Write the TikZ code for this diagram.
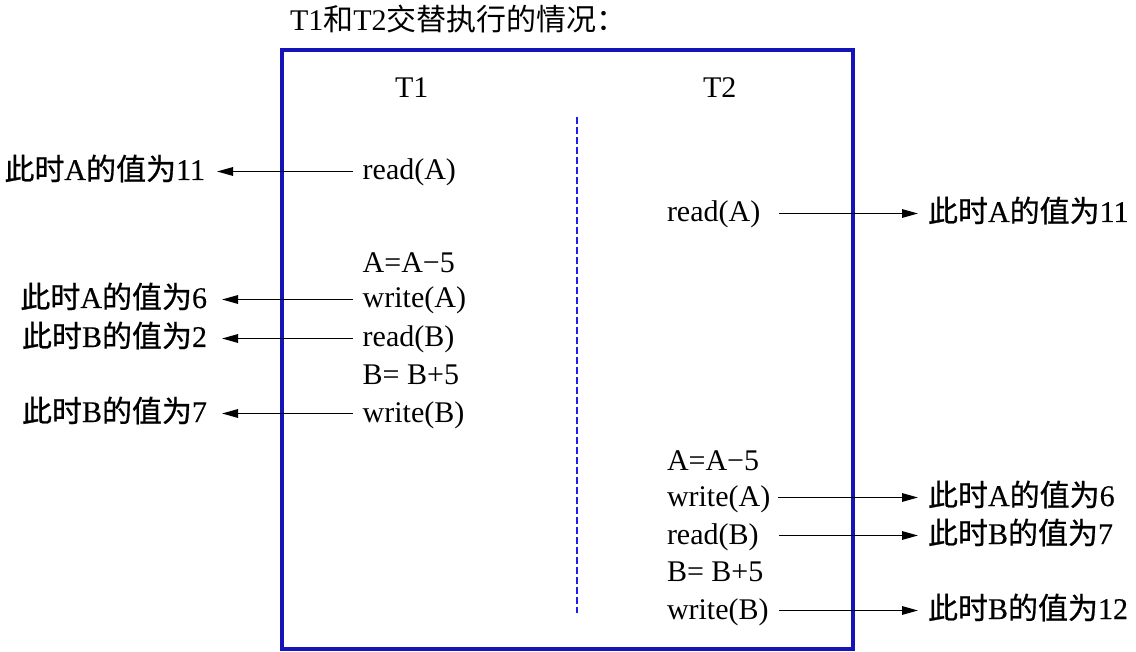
\documentclass[tikz,border=0pt]{standalone}
\usepackage{fontspec}
\setmainfont{Liberation Serif}
\newfontfamily\cjk{Noto Sans CJK SC}
\newfontfamily\cjkm[FakeBold=0.7]{Noto Sans CJK SC}
\newfontfamily\labfont[FakeBold=0.3]{Liberation Serif}
\usetikzlibrary{arrows.meta}
\definecolor{boxblue}{RGB}{20,20,185}
\definecolor{dashblue}{RGB}{30,30,235}
\newcommand{\lab}[2]{{\labfont{\cjkm 此时}#1{\cjkm 的值为}#2}}
\begin{document}
\begin{tikzpicture}[x=1pt,y=-1pt,
  txt/.style={inner sep=0pt,outer sep=0pt,font=\fontsize{30}{32}\selectfont},
  arr/.style={line width=1.5pt,-{Triangle[length=16pt,width=8.5pt]}}]
\useasboundingbox (0,0) rectangle (1136,652);
% title
\node[txt,anchor=base west] (title) at (290,31) {T1{\cjk 和}T2{\cjk 交替执行的情况：}};
% frame and separator
\draw[boxblue,line width=3.5pt] (282,50) rectangle (853,649);
\coordinate (dtop) at (577,117);
\coordinate (dbot) at (577,613);
\draw[dashblue,line width=1.5pt,dash pattern=on 7pt off 3pt] (dtop) -- (dbot);
% headers
\node[txt,anchor=base west] (h1) at (395,98) {T1};
\node[txt,anchor=base west] (h2) at (703,98) {T2};
% T1 operations
\node[txt,anchor=base west] (a1) at (362.7,180) {read(A)};
\node[txt,anchor=base west] (a2) at (362.7,273) {A=A−5};
\node[txt,anchor=base west] (a3) at (362.7,308) {write(A)};
\node[txt,anchor=base west] (a4) at (362.7,347) {read(B)};
\node[txt,anchor=base west] (a5) at (362.7,385) {B= B+5};
\node[txt,anchor=base west] (a6) at (362.7,422) {write(B)};
% T2 operations
\node[txt,anchor=base west] (b1) at (667,222) {read(A)};
\node[txt,anchor=base west] (b2) at (667,470) {A=A−5};
\node[txt,anchor=base west] (b3) at (667,506) {write(A)};
\node[txt,anchor=base west] (b4) at (667,544) {read(B)};
\node[txt,anchor=base west] (b5) at (667,581) {B= B+5};
\node[txt,anchor=base west] (b6) at (667,619) {write(B)};
% left labels
\node[txt,anchor=base east] (l1) at (205,180) {\lab{A}{11}};
\node[txt,anchor=base east] (l3) at (207,308) {\lab{A}{6}};
\node[txt,anchor=base east] (l4) at (207,347) {\lab{B}{2}};
\node[txt,anchor=base east] (l6) at (207,422) {\lab{B}{7}};
% right labels
\node[txt,anchor=base west] (r1) at (928,222) {\lab{A}{11}};
\node[txt,anchor=base west] (r3) at (928,506) {\lab{A}{6}};
\node[txt,anchor=base west] (r4) at (928,544) {\lab{B}{7}};
\node[txt,anchor=base west] (r6) at (928,619) {\lab{B}{12}};
% left arrows
\draw[arr] ([shift={(-9.7pt,8.5pt)}]a1.base west) -- ([shift={(12pt,8.5pt)}]l1.base east);
\draw[arr] ([shift={(-9.7pt,8.5pt)}]a3.base west) -- ([shift={(15pt,8.5pt)}]l3.base east);
\draw[arr] ([shift={(-9.7pt,8.5pt)}]a4.base west) -- ([shift={(15pt,8.5pt)}]l4.base east);
\draw[arr] ([shift={(-9.7pt,8.5pt)}]a6.base west) -- ([shift={(15pt,8.5pt)}]l6.base east);
% right arrows
\draw[arr] ([shift={(112pt,8.5pt)}]b1.base west) -- ([shift={(-10pt,8.5pt)}]r1.base west);
\draw[arr] ([shift={(111pt,8.5pt)}]b3.base west) -- ([shift={(-10pt,8.5pt)}]r3.base west);
\draw[arr] ([shift={(112pt,8.5pt)}]b4.base west) -- ([shift={(-10pt,8.5pt)}]r4.base west);
\draw[arr] ([shift={(112pt,8.5pt)}]b6.base west) -- ([shift={(-10pt,8.5pt)}]r6.base west);
\end{tikzpicture}
\end{document}
